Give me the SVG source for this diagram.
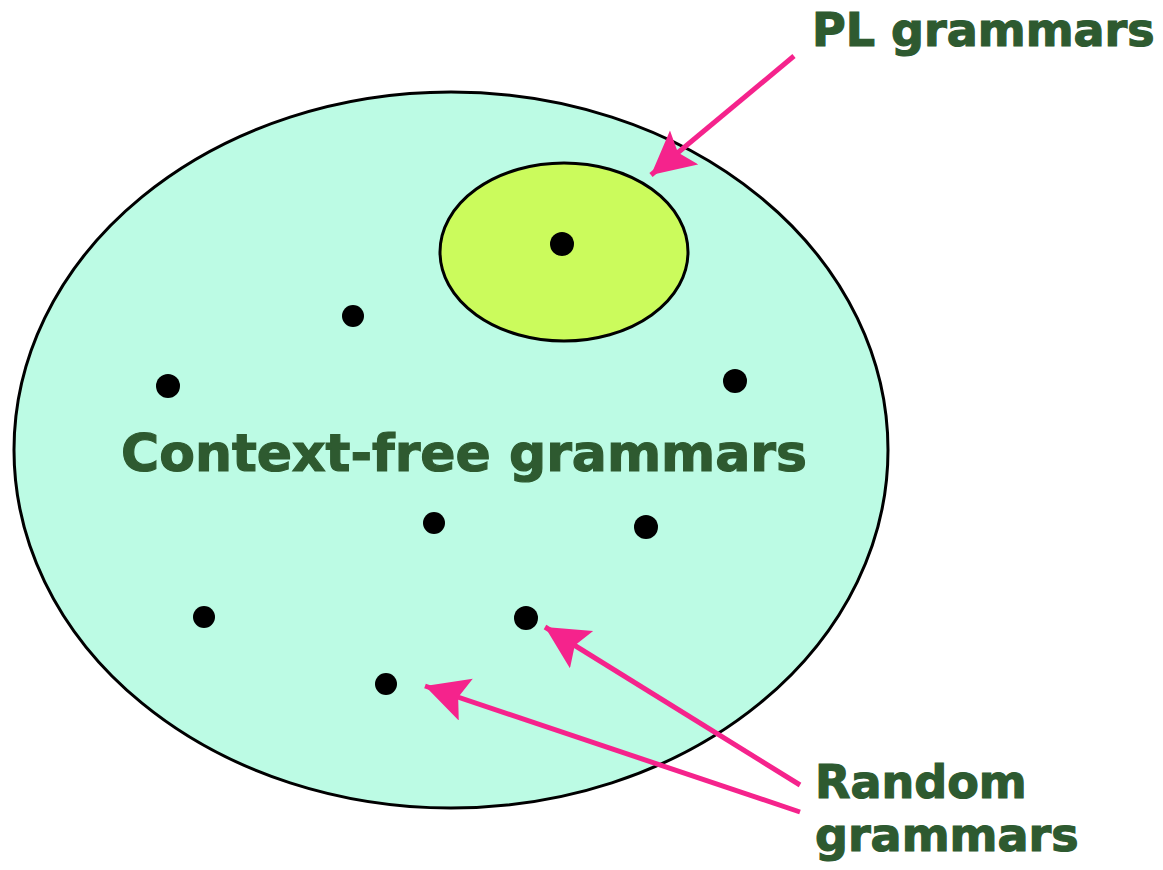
<svg xmlns="http://www.w3.org/2000/svg" width="1163" height="870" viewBox="0 0 1163 870">
<style>
.lbl{font-family:"DejaVu Sans",sans-serif;font-weight:bold;fill:#2e5a30;stroke:#2e5a30;stroke-width:1.2}
.dot{fill:#000}
.conn{stroke:#f5238c;stroke-width:5;fill:none}
</style>
<defs>
<marker id="ah" markerUnits="userSpaceOnUse" markerWidth="50" markerHeight="48" refX="43" refY="22" orient="auto">
<path d="M0,0 L43,22 L0,44 L8,22 Z" fill="#f5238c"/>
</marker>
</defs>
<rect width="1163" height="870" fill="#fff"/>
<g id="cfg">
<ellipse cx="451" cy="450" rx="437" ry="358" fill="#bcfbe4" stroke="#000" stroke-width="3"/>
<text class="lbl" x="464" y="471" font-size="52" text-anchor="middle">Context-free grammars</text>
</g>
<g id="pl">
<ellipse cx="564" cy="252" rx="124" ry="89" fill="#cbfb5c" stroke="#000" stroke-width="3"/>
</g>
<g id="dots">
<circle class="dot" cx="562" cy="244" r="12"/>
<circle class="dot" cx="353" cy="316" r="11"/>
<circle class="dot" cx="168" cy="386" r="12"/>
<circle class="dot" cx="735" cy="381" r="12"/>
<circle class="dot" cx="434" cy="523" r="11"/>
<circle class="dot" cx="646" cy="527" r="12"/>
<circle class="dot" cx="204" cy="617" r="11"/>
<circle class="dot" cx="526" cy="618" r="12"/>
<circle class="dot" cx="386" cy="684" r="11"/>
</g>
<g id="pl-label"><text class="lbl" x="812" y="46" font-size="46">PL grammars</text></g>
<g id="random-label">
<text class="lbl" x="815" y="798" font-size="46">Random</text>
<text class="lbl" x="815" y="851" font-size="46">grammars</text>
</g>
<g id="connectors">
<line class="conn" x1="794" y1="56" x2="651" y2="175" marker-end="url(#ah)"/>
<line class="conn" x1="800" y1="785" x2="545" y2="627" marker-end="url(#ah)"/>
<line class="conn" x1="800" y1="812" x2="425" y2="686" marker-end="url(#ah)"/>
</g>
</svg>
